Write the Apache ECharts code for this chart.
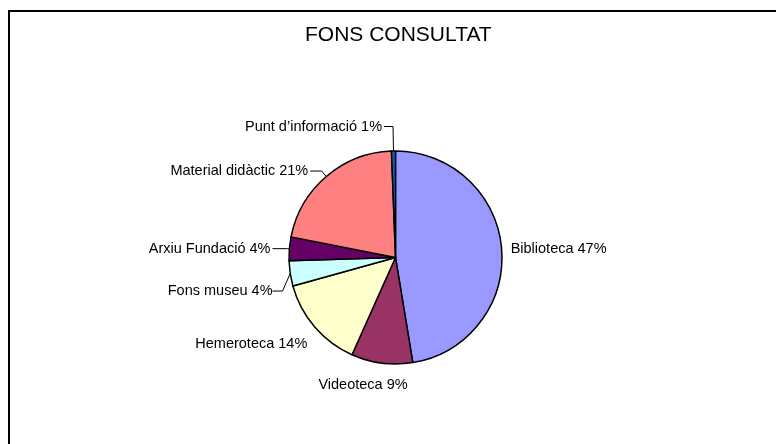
<!DOCTYPE html>
<html>
<head>
<meta charset="utf-8">
<title>Fons consultat</title>
<script src="https://cdn.jsdelivr.net/npm/echarts@6/dist/echarts.min.js"></script>
<style>
  html, body { margin: 0; padding: 0; background: #fff; }
  #chart { width: 776px; height: 444px; }
</style>
</head>
<body>
<div id="chart"></div>
<script>
// dades
const categories = ['Biblioteca', 'Videoteca', 'Hemeroteca', 'Fons museu', 'Arxiu Fundació', 'Material didàctic', 'Punt d’informació'];
const shares = [47.4, 9.3, 14.0, 3.8, 3.6, 21.3, 0.6];

// estil de cada porció (colors clàssics d'Excel)
const sliceColors = ['#9999FF', '#993366', '#FFFFCC', '#CCFFFF', '#660066', '#FF8080', '#0066CC'];

// col·locació de les etiquetes
const lineLen   = [1, 22, 26.4, 1, 2, 7.2, 24.5];
const lineLen2  = [6, 14, 41.4, 10, 14.9, 11.4, 9];
const lineShow  = [false, false, false, true, true, true, true];
const labelAlign = [null, 'center', 'center', null, null, null, null];
const labelShift = [null, null, null, [-4.7, 17.4], null, null, null];

const chart = echarts.init(document.getElementById('chart'));

const pieData = categories.map((name, i) => ({
  name: name,
  value: shares[i],
  itemStyle: { color: sliceColors[i] },
  labelLine: { show: lineShow[i], length: lineLen[i], length2: lineLen2[i] }
}));

const option = {
  animation: false,
  title: {
    text: 'FONS CONSULTAT',
    left: 305,
    top: 25,
    padding: 0,
    textStyle: {
      fontFamily: 'Liberation Sans',
      fontSize: 21,
      fontWeight: 'normal',
      color: '#000'
    }
  },
  graphic: [
    {
      type: 'rect',
      silent: true,
      shape: { x: 9, y: 11, width: 820, height: 500 },
      style: { fill: 'none', stroke: '#000', lineWidth: 2 }
    }
  ],
  series: [
    {
      type: 'pie',
      center: [395.5, 257.5],
      radius: 106.5,
      startAngle: 90,
      clockwise: true,
      avoidLabelOverlap: false,
      data: pieData,
      itemStyle: {
        borderColor: '#000',
        borderWidth: 1.5
      },
      label: {
        show: true,
        position: 'outside',
        distanceToLabelLine: 2,
        fontFamily: 'Liberation Sans',
        fontSize: 14.5,
        color: '#000',
        formatter: p => p.name + ' ' + Math.round(p.percent) + '%'
      },
      labelLine: {
        lineStyle: { color: '#000', width: 1 }
      },
      labelLayout: function (params) {
        const i = params.dataIndex;
        const out = {};
        if (labelAlign[i]) out.align = labelAlign[i];
        if (labelShift[i]) {
          const dx = labelShift[i][0];
          const dy = labelShift[i][1];
          const r = params.labelRect;
          const anchor = params.labelLinePoints[0];
          const right = r.x + r.width + dx;
          const midY = r.y + r.height / 2 + dy;
          out.dx = dx;
          out.dy = dy;
          out.labelLinePoints = [anchor, [right + lineLen2[i], midY], [right, midY]];
        }
        return out;
      },
      emphasis: { disabled: true }
    }
  ]
};

chart.setOption(option);
</script>
</body>
</html>
